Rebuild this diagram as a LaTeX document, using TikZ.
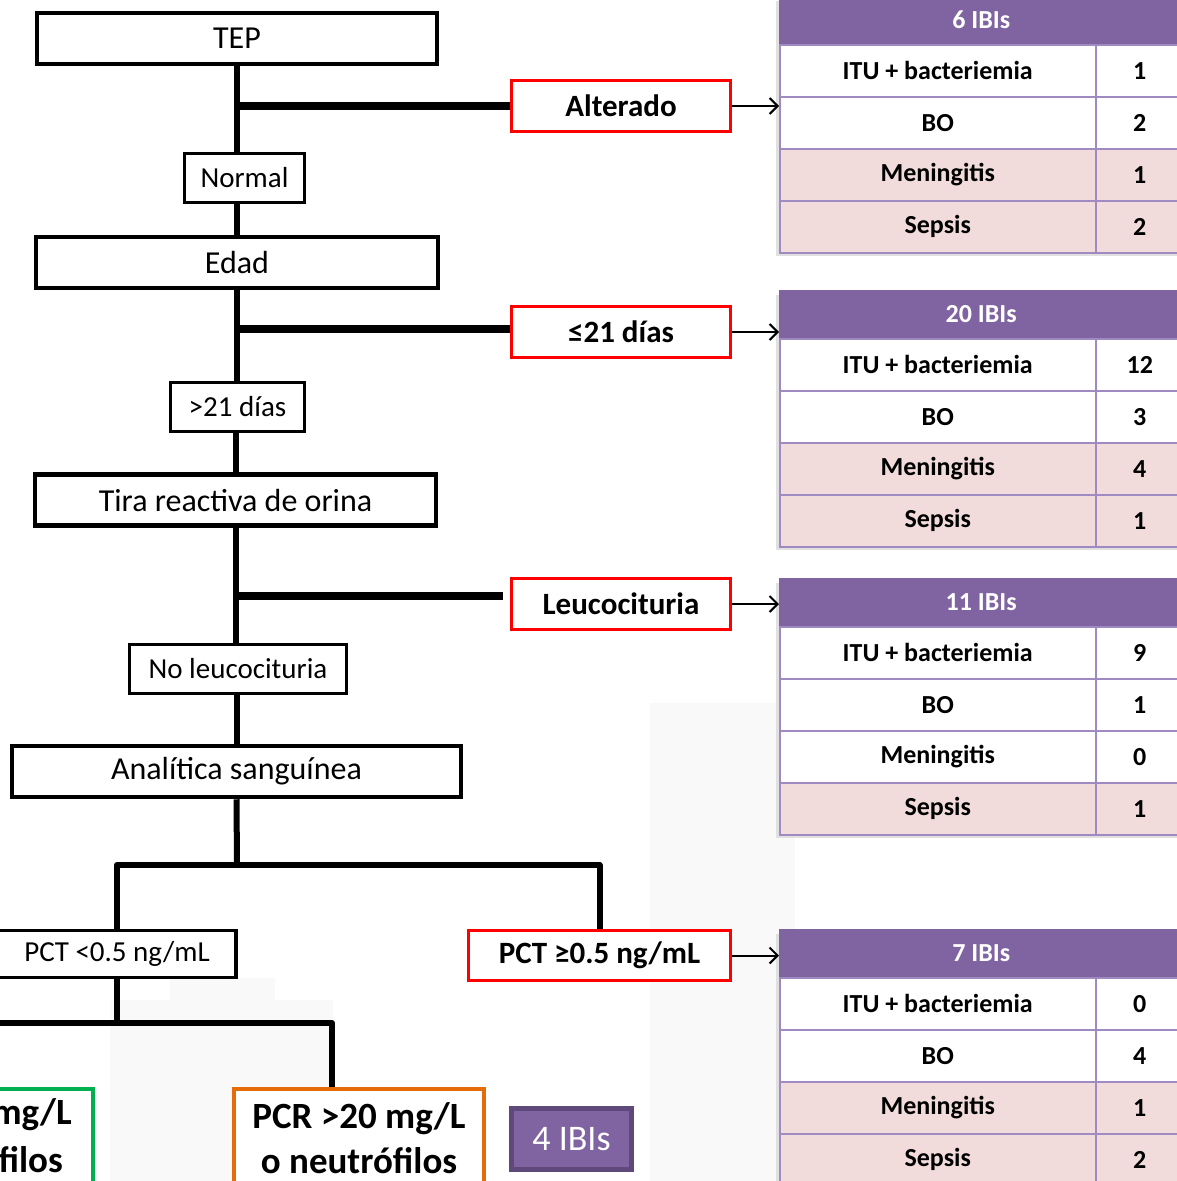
\documentclass[tikz,border=0pt]{standalone}
\usepackage{fontspec}
\setmainfont{Carlito}
\usepackage{tikz}
\usetikzlibrary{arrows.meta}

\definecolor{ibipurple}{HTML}{8064A2}
\definecolor{ibidark}{HTML}{5F497A}
\definecolor{ibiline}{HTML}{9F8AC2}
\definecolor{rowpink}{HTML}{F2DCDB}
\definecolor{boxred}{HTML}{FF0000}
\definecolor{boxgreen}{HTML}{00B050}
\definecolor{boxorange}{HTML}{E46C0A}

\newcommand{\fsbox}{\fontsize{32}{38}\selectfont}
\newcommand{\fssmall}{\fontsize{29}{34}\selectfont}
\newcommand{\fsred}{\fontsize{31}{37}\selectfont\bfseries}
\newcommand{\fstab}{\fontsize{26}{31}\selectfont\bfseries}
\newcommand{\fspcr}{\fontsize{37}{45}\selectfont\bfseries}

\tikzset{
  bigbox/.style={draw, fill=white, line width=4.5pt, minimum height=51pt, inner sep=0pt, font=\fsbox},
  smallbox/.style={draw, fill=white, line width=3.5pt, minimum height=49pt, inner sep=0pt, font=\fssmall},
  redbox/.style={draw=boxred, fill=white, line width=3.5pt, minimum width=219pt, minimum height=51pt, inner sep=0pt, font=\fsred},
  trunk/.style={line width=6pt, line join=round},
  branch/.style={line width=8pt},
  toarrow/.style={->, line width=2pt},
  ibihead/.style={anchor=north west, fill=ibipurple, minimum width=404pt, minimum height=48pt, inner sep=0pt, text=white, font=\fstab},
  ibicell/.style={anchor=north west, draw=ibiline, line width=1.5pt, minimum width=316pt, minimum height=52pt, inner sep=0pt, font=\fstab},
  ibinum/.style={ibicell, minimum width=88pt},
  tabshadow/.style={fill=black!12},
  wmark/.style={fill=black!2.5},
}

\begin{document}
\begin{tikzpicture}[x=1pt, y=-1pt, >={Straight Barb[length=8pt,width=16pt]}]
	\useasboundingbox (0,0) rectangle (1177,1181);
	\clip (0,0) rectangle (1177,1181);

	% faint background marks
	\fill[wmark] (650,703) rectangle (795,1181);
	\fill[wmark] (110,1000) rectangle (333,1181);
	\fill[wmark] (170,978) rectangle (275,1000);

	% left column
	\node[bigbox, minimum width=400pt] (tep) at (237,38.5) {TEP};
	\node[smallbox, minimum width=120pt] (normal) at (244.5,178) {Normal};
	\node[bigbox, minimum width=402pt] (edad) at (237,262.5) {Edad};
	\node[smallbox, minimum width=134pt] (gt21) at (237.5,407) {>21 días};
	\node[bigbox, minimum width=401pt] (tira) at (235.5,500) {Tira reactiva de orina};
	\node[smallbox, minimum width=217pt] (noleuc) at (238,669) {No leucocituria};
	\node[bigbox, minimum width=449pt] (ana) at (236.5,771.5) {Analítica sanguínea};
	\node[smallbox, minimum width=238pt, minimum height=47pt] (pctlo) at (117,954) {PCT <0.5 ng/mL};

	% red boxes
	\node[redbox] (alt) at (621,106) {Alterado};
	\node[redbox] (le21) at (621,332) {≤21 días};
	\node[redbox] (leuc) at (621,604) {Leucocituria};
	\node[redbox, minimum width=262pt, minimum height=50pt] (pcthi) at (599.5,955.5) {PCT ≥0.5 ng/mL};

	% bottom boxes
	\node[draw=boxgreen, fill=white, line width=4pt, anchor=north, minimum width=250pt, minimum height=106pt] (green) at (-32,1087) {};
	\node[font=\fspcr, anchor=east, inner sep=0pt] (greenA) at (72,1115) {mg/L};
	\node[font=\fspcr, anchor=east, inner sep=0pt] (greenB) at (63,1160) {filos};
	\node[draw=boxorange, fill=white, line width=4pt, anchor=north, minimum width=250pt, minimum height=98pt, align=center, font=\fspcr] (pcr) at (359,1087) {PCR >20 mg/L\\o neutrófilos};
	\node[fill=ibipurple, draw=ibidark, line width=5pt, minimum width=120pt, minimum height=61pt, text=white, font=\fontsize{36}{43}\selectfont] (ibi4) at (571.5,1139) {4 IBIs};

	% trunk and branches
	\draw[trunk] (tep.south) -- (tep.south |- normal.north);
	\draw[trunk] (normal.south -| edad.north) -- (edad.north);
	\draw[trunk] (edad.south) -- (edad.south |- gt21.north);
	\draw[trunk] (gt21.south -| tira.north) -- (tira.north);
	\draw[trunk] (tira.south) -- (tira.south |- noleuc.north);
	\draw[trunk] (noleuc.south -| ana.north) -- (ana.north);
	\draw[branch] (tep.south |- alt.west) -- (alt.west);
	\draw[branch] ([yshift=3pt]le21.west -| edad.south) -- ([yshift=3pt]le21.west);
	\draw[branch] ([yshift=8pt]leuc.west -| tira.south) -- ([xshift=-7pt,yshift=8pt]leuc.west);

	\coordinate (split1) at (237,865);
	\draw[trunk] (ana.south) -- (split1);
	\draw[trunk] (pctlo.north) |- (split1) -| (pcthi.north);
	\coordinate (split2) at (117,1023);
	\draw[trunk] (pctlo.south) -- (split2);
	\draw[trunk] (green.north) |- (split2) -| ([xshift=-27pt]pcr.north);

	% tables
	\begin{scope}[shift={(779,-4)}]
		\fill[tabshadow] (-3,5) rectangle (404,260);
		\node[ibihead] (t1) at (0,0) {6 IBIs};
		\foreach \lab/\num/\fc [count=\i] in {ITU + bacteriemia/1/white, BO/2/white, Meningitis/1/rowpink, Sepsis/2/rowpink}{
			\node[ibicell, fill=\fc] (t1a\i) at (0,{48+52*(\i-1)}) {\lab};
			\node[ibinum, fill=\fc] (t1b\i) at (316,{48+52*(\i-1)}) {\num};
		}
	\end{scope}
	\begin{scope}[shift={(779,290)}]
		\fill[tabshadow] (-3,5) rectangle (404,260);
		\node[ibihead] (t2) at (0,0) {20 IBIs};
		\foreach \lab/\num/\fc [count=\i] in {ITU + bacteriemia/12/white, BO/3/white, Meningitis/4/rowpink, Sepsis/1/rowpink}{
			\node[ibicell, fill=\fc] (t2a\i) at (0,{48+52*(\i-1)}) {\lab};
			\node[ibinum, fill=\fc] (t2b\i) at (316,{48+52*(\i-1)}) {\num};
		}
	\end{scope}
	\begin{scope}[shift={(779,578)}]
		\fill[tabshadow] (-3,5) rectangle (404,260);
		\node[ibihead] (t3) at (0,0) {11 IBIs};
		\foreach \lab/\num/\fc [count=\i] in {ITU + bacteriemia/9/white, BO/1/white, Meningitis/0/white, Sepsis/1/rowpink}{
			\node[ibicell, fill=\fc] (t3a\i) at (0,{48+52*(\i-1)}) {\lab};
			\node[ibinum, fill=\fc] (t3b\i) at (316,{48+52*(\i-1)}) {\num};
		}
	\end{scope}
	\begin{scope}[shift={(779,929)}]
		\fill[tabshadow] (-3,5) rectangle (404,260);
		\node[ibihead] (t4) at (0,0) {7 IBIs};
		\foreach \lab/\num/\fc [count=\i] in {ITU + bacteriemia/0/white, BO/4/white, Meningitis/1/rowpink, Sepsis/2/rowpink}{
			\node[ibicell, fill=\fc] (t4a\i) at (0,{48+52*(\i-1)}) {\lab};
			\node[ibinum, fill=\fc] (t4b\i) at (316,{48+52*(\i-1)}) {\num};
		}
	\end{scope}

	% arrows to tables
	\draw[toarrow] (alt.east) -- (alt.east -| t1.west);
	\draw[toarrow] (le21.east) -- (le21.east -| t2.west);
	\draw[toarrow] (leuc.east) -- (leuc.east -| t3.west);
	\draw[toarrow] (pcthi.east) -- (pcthi.east -| t4.west);
\end{tikzpicture}
\end{document}
